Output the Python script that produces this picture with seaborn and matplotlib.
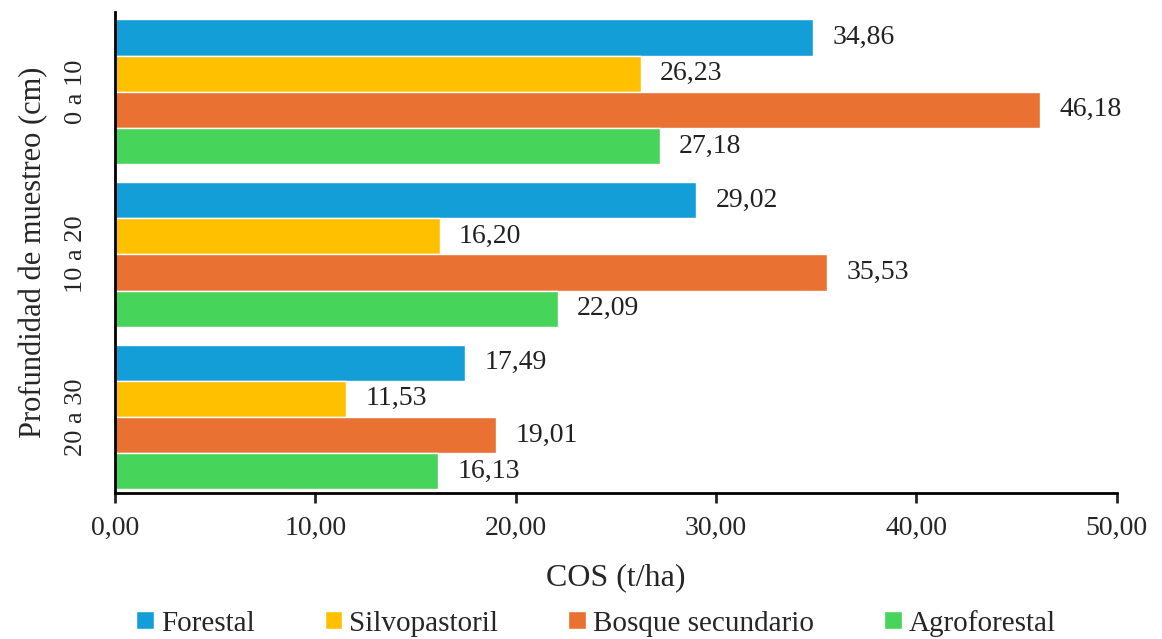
import pandas as pd
import seaborn as sns
import matplotlib.pyplot as plt
from matplotlib.ticker import FuncFormatter


profundidad = ["0 a 10", "10 a 20", "20 a 30"]
sistemas = ["Forestal", "Silvopastoril", "Bosque secundario", "Agroforestal"]
forestal = [34.86, 29.02, 17.49]
silvopastoril = [26.23, 16.20, 11.53]
bosque = [46.18, 35.53, 19.01]
agroforestal = [27.18, 22.09, 16.13]
colores = ["#139ED8", "#FFC000", "#E97132", "#47D45A"]

df = pd.DataFrame({
    "Profundidad": profundidad * 4,
    "Sistema": [s for s in sistemas for _ in profundidad],
    "COS": forestal + silvopastoril + bosque + agroforestal,
})

sns.set_style("white")
plt.rcParams["font.family"] = ["Liberation Serif", "DejaVu Serif"]

fig, ax = plt.subplots(figsize=(11.62, 6.39), dpi=100)
fig.subplots_adjust(left=0.099, right=0.961, bottom=0.228, top=0.981)

sns.barplot(data=df, y="Profundidad", x="COS", hue="Sistema", orient="h",
            palette=colores, width=0.89, gap=0, saturation=1, ax=ax)

for cont in ax.containers:
    ax.bar_label(cont, labels=[f"{v:.2f}".replace(".", ",") for v in cont.datavalues],
                 padding=14, fontsize=20, color="#222222")

ax.set_xlim(0, 50)
ax.set_ylim(2.47, -0.49)
ax.set_xticks(range(0, 51, 10))
ax.xaxis.set_major_formatter(FuncFormatter(lambda v, p: f"{v:.2f}".replace(".", ",")))
ax.tick_params(axis="x", length=7, width=2, labelsize=20, direction="out", pad=9, bottom=True)
ax.tick_params(axis="y", length=0, labelsize=19, pad=20)
for lbl in ax.get_yticklabels():
    lbl.set_rotation(90)
    lbl.set_va("center")

ax.set_xlabel("COS (t/ha)", fontsize=23, labelpad=16)
ax.set_ylabel("Profundidad de muestreo (cm)", fontsize=22, labelpad=12)

sns.despine(ax=ax)
for side in ["left", "bottom"]:
    ax.spines[side].set_linewidth(2)
    ax.spines[side].set_color("black")

handles, labels = ax.get_legend_handles_labels()
ax.get_legend().remove()
fig.legend(handles, labels, loc="center", bbox_to_anchor=(0.513, 0.025), ncol=4, frameon=False,
           fontsize=21, handlelength=0.6, handleheight=0.6, handletextpad=0.25,
           columnspacing=2.4, borderaxespad=0, borderpad=0)

fig.savefig("out.png", dpi=100)
